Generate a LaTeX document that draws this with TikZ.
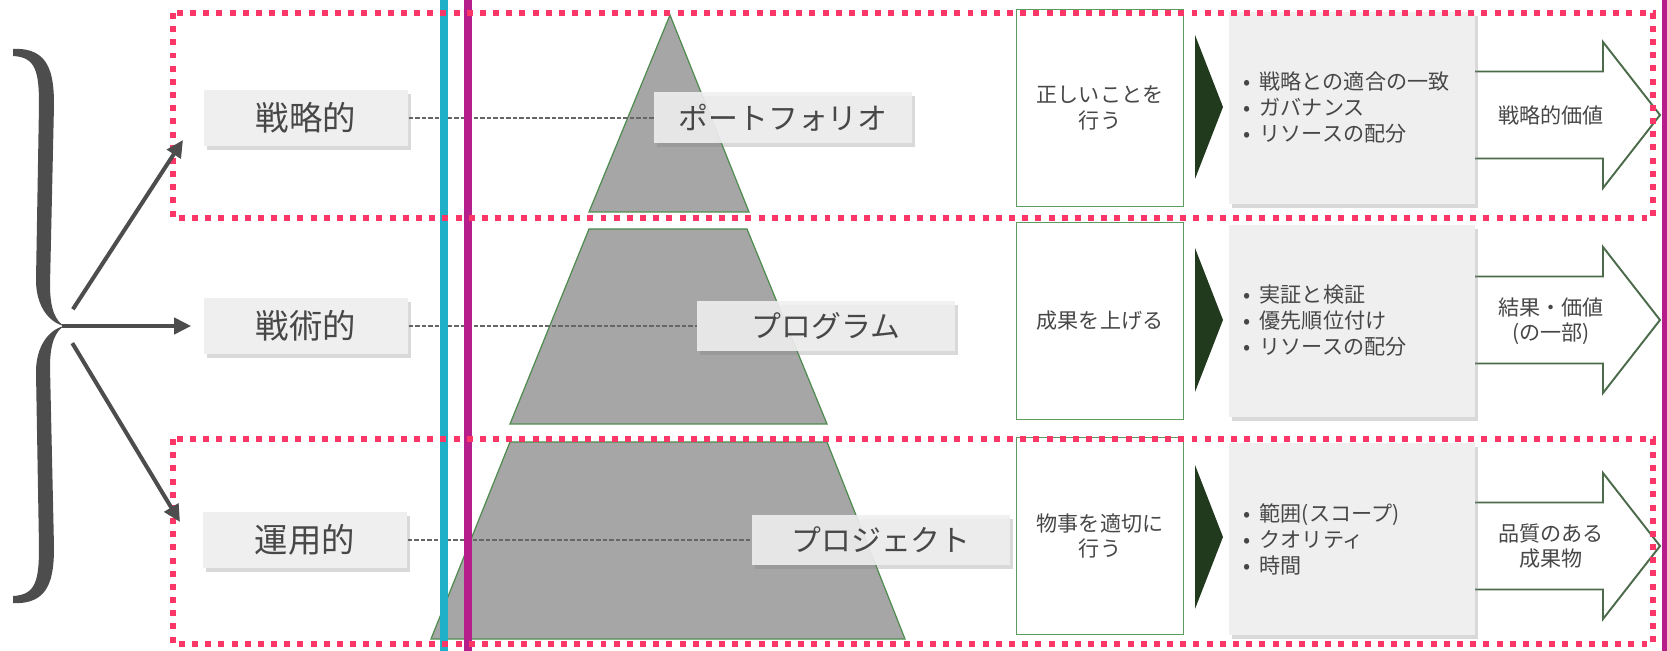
\documentclass[tikz,border=0pt]{standalone}
\usepackage{fontspec}
\setmainfont{Noto Sans CJK JP}
\usepackage{xcolor}
\usetikzlibrary{arrows.meta, positioning, calc, shadows}

\definecolor{txtgray}{HTML}{474747}
\definecolor{boxgray}{HTML}{EFEFEF}
\definecolor{pyrfill}{HTML}{A6A6A6}
\definecolor{pyredge}{HTML}{4F8C4F}
\definecolor{okgreen}{HTML}{5E9B5E}
\definecolor{darkgreen}{HTML}{213A1E}
\definecolor{arrgreen}{HTML}{4B6B4B}
\definecolor{dotred}{HTML}{FC3768}
\definecolor{cyanline}{HTML}{20B0C8}
\definecolor{magline}{HTML}{B61E8C}
\definecolor{bracegray}{HTML}{4D4D4D}

\newcommand{\bul}[1]{\makebox[0.32cm][l]{•}#1}

\begin{document}
\begin{tikzpicture}[x=0.02cm, y=-0.02cm, >=Stealth,
    lvlbox/.style={fill=boxgray, text=txtgray, minimum width=4.1cm, minimum height=1.12cm,
      font=\fontsize{19pt}{22pt}\selectfont,
      drop shadow={shadow xshift=0.06cm, shadow yshift=-0.08cm, opacity=0.3}},
    pyrbox/.style={fill=boxgray, fill opacity=0.9, text opacity=1, text=txtgray,
      minimum width=5.16cm, minimum height=1.02cm, font=\fontsize{17pt}{20pt}\selectfont,
      drop shadow={shadow xshift=0.06cm, shadow yshift=-0.08cm, opacity=0.3}},
    pyrpart/.style={fill=pyrfill, draw=pyredge, line width=0.7pt},
    guide/.style={draw=black!60, dash pattern=on 2.4pt off 1.3pt, line width=1pt},
    doframe/.style={draw=okgreen, line width=1.1pt, fill=white, minimum width=3.34cm,
      minimum height=3.94cm, align=center, text=txtgray, font=\fontsize{12pt}{14.5pt}\selectfont},
    listbox/.style={fill=boxgray, minimum width=4.92cm, minimum height=3.86cm, text width=4.32cm,
      inner xsep=0.3cm, align=left, text=txtgray, font=\fontsize{12pt}{14.8pt}\selectfont,
      drop shadow={shadow xshift=0.06cm, shadow yshift=-0.08cm, opacity=0.3}},
    valarrow/.style={draw=arrgreen, line width=1.1pt, fill=white, line join=miter},
    valtext/.style={align=center, text=txtgray, font=\fontsize{12pt}{14.5pt}\selectfont},
    zone/.style={draw=dotred, line width=3.3pt, dash pattern=on 3.4pt off 4.1pt},
    branch/.style={draw=bracegray, line width=2.3pt, -{Triangle[length=0.34cm,width=0.32cm]}}]

  \useasboundingbox (0,0) rectangle (1667,651);

  % pyramid
  \draw[pyrpart] (670,15) -- (749,212) -- (589,212) -- cycle;
  \draw[pyrpart] (589,229) -- (747,229) -- (827,424) -- (510,424) -- cycle;
  \draw[pyrpart] (510,442) -- (827,442) -- (905,639) -- (431,639) -- cycle;

  % levels
  \node[lvlbox] (strat) at (306,118) {戦略的};
  \node[lvlbox] (tact) at (306,326) {戦術的};
  \node[lvlbox] (oper) at (305,540) {運用的};

  \node[pyrbox, right=4.9cm of strat] (port) {ポートフォリオ};
  \node[pyrbox, right=5.76cm of tact] (prog) {プログラム};
  \node[pyrbox, right=6.88cm of oper] (proj) {プロジェクト};

  \draw[guide] (strat.east) -- (port.west);
  \draw[guide] (tact.east) -- (prog.west);
  \draw[guide] (oper.east) -- (proj.west);

  % right column
  \node[doframe] (do1) at (1100,108) {正しいことを\\行う};
  \node[doframe] (do2) at (1100,321) {成果を上げる};
  \node[doframe] (do3) at (1100,536) {物事を適切に\\行う};

  \foreach \c in {107,320,537}
    \fill[darkgreen] (1195,{\c-72}) -- (1223,\c) -- (1195,{\c+72}) -- cycle;

  \foreach \c in {115,320,546}
    \draw[valarrow] (1470,{\c-43.5}) -- (1603,{\c-43.5}) -- (1603,{\c-73}) -- (1660,\c)
      -- (1603,{\c+73}) -- (1603,{\c+43.5}) -- (1470,{\c+43.5});

  \node[listbox, right=0.88cm of do1] (list1) {\bul{戦略との適合の一致}\\\bul{ガバナンス}\\\bul{リソースの配分}};
  \node[listbox, right=0.88cm of do2] (list2) {\bul{実証と検証}\\\bul{優先順位付け}\\\bul{リソースの配分}};
  \node[listbox, right=0.88cm of do3, yshift=-0.06cm] (list3) {\bul{範囲(スコープ)}\\\bul{クオリティ}\\\bul{時間}};

  \node[valtext] (val1) at (1551,115) {戦略的価値};
  \node[valtext] (val2) at (1551,321) {結果・価値\\(の一部)};
  \node[valtext] (val3) at (1551,546) {品質のある\\成果物};

  % marker lines
  \draw[cyanline, line width=5pt] (444,0) -- (444,651);
  \draw[magline, line width=5pt] (468,0) -- (468,651);
  \draw[magline, line width=3.4pt] (1665,0) -- (1665,651);

  \draw[zone] (173,13) rectangle (1653,218);
  \draw[zone] (173,439) rectangle (1653,644);

  % brace
  \fill[bracegray] (13,49) .. controls (50,47) and (54,75) .. (54,105) -- (50,285)
      .. controls (50,310) and (56,321) .. (64,326)
      .. controls (48,322) and (36,305) .. (36,280) -- (39,105)
      .. controls (39,72) and (36,57) .. (13,56) -- cycle;
  \fill[bracegray] (13,603) .. controls (50,605) and (54,577) .. (54,547) -- (50,367)
      .. controls (50,342) and (56,331) .. (64,326)
      .. controls (48,330) and (36,347) .. (36,372) -- (39,547)
      .. controls (39,580) and (36,595) .. (13,596) -- cycle;
  \coordinate (fork) at (62,326);
  \coordinate (aStrat) at (183,140);
  \coordinate (aOper) at (180,522);

  \draw[branch, shorten <=0.4cm] (fork) -- (aStrat);
  \draw[branch, shorten >=0.24cm] (fork) -- (tact.west);
  \draw[branch, shorten <=0.4cm] (fork) -- (aOper);
\end{tikzpicture}
\end{document}
